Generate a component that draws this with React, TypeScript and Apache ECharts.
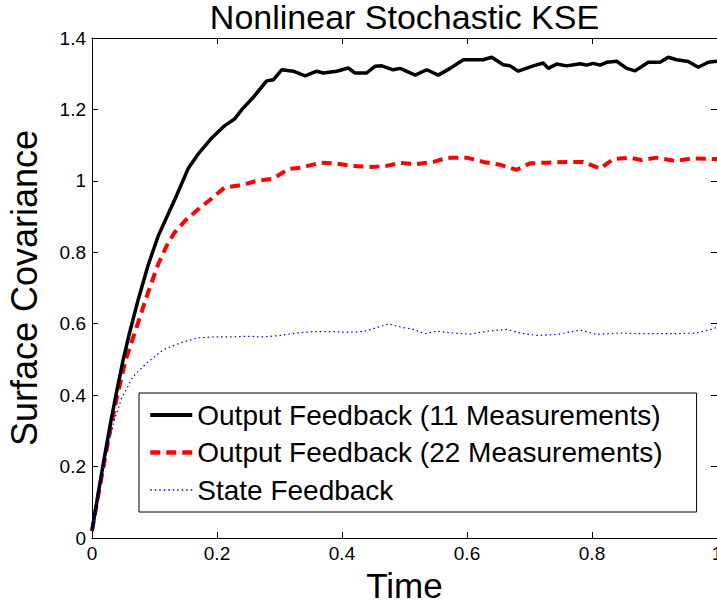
import React, { useEffect, useRef } from "react";
import * as echarts from "echarts";

const titleText = "Nonlinear Stochastic KSE";
const xAxisName = "Time";
const yAxisName = "Surface Covariance";
const seriesNames = [
  "Output Feedback (11 Measurements)",
  "Output Feedback (22 Measurements)",
  "State Feedback",
];
const xTicks = [0, 0.2, 0.4, 0.6, 0.8, 1];
const yTicks = [0, 0.2, 0.4, 0.6, 0.8, 1, 1.2, 1.4];

const black11: [number, number][] = [
  [0, 0.02], [0.01, 0.125], [0.02, 0.228], [0.03, 0.325], [0.04, 0.415], [0.05, 0.5],
  [0.06, 0.574], [0.074, 0.668], [0.09, 0.765], [0.106, 0.846], [0.12, 0.9], [0.133, 0.95],
  [0.154, 1.035], [0.172, 1.08], [0.19, 1.117], [0.212, 1.154], [0.228, 1.173], [0.24, 1.2],
  [0.258, 1.234], [0.2795, 1.28], [0.29, 1.283], [0.3035, 1.311], [0.322, 1.307], [0.341, 1.294],
  [0.3595, 1.307], [0.37, 1.302], [0.3915, 1.307], [0.41, 1.316], [0.421, 1.302], [0.4395, 1.302],
  [0.453, 1.321], [0.4635, 1.322], [0.482, 1.311], [0.493, 1.315], [0.517, 1.296], [0.5355, 1.311],
  [0.554, 1.296], [0.573, 1.315], [0.594, 1.339], [0.626, 1.339], [0.6395, 1.346], [0.658, 1.325],
  [0.669, 1.322], [0.682, 1.307], [0.706, 1.322], [0.722, 1.33], [0.73, 1.315], [0.7435, 1.327],
  [0.7595, 1.322], [0.781, 1.328], [0.7915, 1.324], [0.802, 1.329], [0.813, 1.324], [0.8235, 1.332],
  [0.8395, 1.335], [0.8555, 1.315], [0.869, 1.308], [0.89, 1.332], [0.909, 1.332], [0.922, 1.346],
  [0.9355, 1.339], [0.954, 1.334], [0.97, 1.318], [0.986, 1.332], [1.0, 1.335],
];

const red22: [number, number][] = [
  [0, 0.02], [0.01, 0.12], [0.02, 0.215], [0.03, 0.31], [0.04, 0.395], [0.054, 0.5],
  [0.0736, 0.602], [0.0896, 0.687], [0.1056, 0.765], [0.119, 0.817], [0.132, 0.855], [0.151, 0.892],
  [0.1696, 0.92], [0.191, 0.95], [0.212, 0.981], [0.239, 0.988], [0.2635, 1.0], [0.29, 1.006],
  [0.314, 1.033], [0.3355, 1.037], [0.365, 1.051], [0.389, 1.049], [0.4155, 1.042], [0.4475, 1.039],
  [0.4715, 1.042], [0.493, 1.05], [0.5195, 1.047], [0.546, 1.053], [0.57, 1.065], [0.5995, 1.065],
  [0.626, 1.053], [0.653, 1.045], [0.6795, 1.031], [0.7008, 1.049], [0.7275, 1.051], [0.7595, 1.053],
  [0.786, 1.053], [0.813, 1.034], [0.834, 1.061], [0.861, 1.065], [0.8795, 1.058], [0.9035, 1.065],
  [0.933, 1.056], [0.962, 1.063], [1.0, 1.061],
];

const blueState: [number, number][] = [
  [0, 0.02], [0.01, 0.125], [0.02, 0.215], [0.034, 0.32], [0.047, 0.39], [0.066, 0.453],
  [0.0875, 0.49], [0.114, 0.527], [0.141, 0.546], [0.1675, 0.56], [0.194, 0.563], [0.221, 0.563],
  [0.2475, 0.565], [0.274, 0.563], [0.301, 0.567], [0.3275, 0.574], [0.354, 0.578], [0.381, 0.578],
  [0.4075, 0.576], [0.434, 0.578], [0.461, 0.592], [0.475, 0.6], [0.49, 0.592], [0.514, 0.584],
  [0.533, 0.572], [0.5515, 0.579], [0.578, 0.574], [0.605, 0.571], [0.6315, 0.579], [0.6635, 0.584],
  [0.685, 0.574], [0.7115, 0.567], [0.7435, 0.57], [0.781, 0.582], [0.8075, 0.57], [0.845, 0.574],
  [0.877, 0.572], [0.909, 0.572], [0.9355, 0.572], [0.9675, 0.574], [0.994, 0.586], [1.0, 0.59],
];

const FONT = "'Liberation Sans', Arial, Helvetica, sans-serif";

const fmt = (v: number) => String(Math.round(v * 10) / 10);

export default function App() {
  const ref = useRef<HTMLDivElement>(null);
  useEffect(() => {
    if (!ref.current) return;
    const chart = echarts.init(ref.current, null, { renderer: "svg" });
    const baseX = {
      type: "value" as const,
      min: xTicks[0],
      max: xTicks[xTicks.length - 1],
      interval: 0.2,
      splitLine: { show: false },
      axisLine: { show: true, onZero: false, lineStyle: { color: "#000", width: 1 } },
      axisTick: { show: true, inside: true, length: 6, lineStyle: { color: "#000" } },
    };
    const baseY = {
      type: "value" as const,
      min: yTicks[0],
      max: yTicks[yTicks.length - 1],
      interval: 0.2,
      splitLine: { show: false },
      axisLine: { show: true, onZero: false, lineStyle: { color: "#000", width: 1 } },
      axisTick: { show: true, inside: true, length: 6, lineStyle: { color: "#000" } },
    };
    chart.setOption({
      animation: false,
      backgroundColor: "#fff",
      textStyle: { fontFamily: FONT },
      grid: { left: 92, right: 0, top: 38, bottom: 65, outerBoundsMode: "none", containLabel: false },
      graphic: [
        {
          type: "text",
          x: 404.5,
          y: 0,
          style: {
            text: titleText,
            fontSize: 34,
            fontFamily: FONT,
            fill: "#000",
            align: "center",
            verticalAlign: "top",
          },
        },
      ],
      xAxis: [
        {
          ...baseX,
          position: "bottom",
          axisLabel: { color: "#000", fontSize: 19, fontFamily: FONT, margin: 6, formatter: fmt },
          name: xAxisName,
          nameLocation: "middle",
          nameGap: 25,
          nameTextStyle: { color: "#000", fontSize: 35, fontFamily: FONT },
        },
        { ...baseX, position: "top", axisLabel: { show: false } },
      ],
      yAxis: [
        {
          ...baseY,
          position: "left",
          axisLabel: { color: "#000", fontSize: 19, fontFamily: FONT, margin: 6, formatter: fmt },
          name: yAxisName,
          nameLocation: "middle",
          nameGap: 50,
          nameTextStyle: { color: "#000", fontSize: 36, fontFamily: FONT },
        },
        { ...baseY, position: "right", axisLabel: { show: false } },
      ],
      legend: {
        orient: "vertical",
        left: 139,
        top: 393,
        padding: [8, 34, 8, 9],
        itemGap: 9.5,
        itemWidth: 42,
        itemHeight: 14,
        backgroundColor: "#fff",
        borderColor: "#000",
        borderWidth: 1,
        borderRadius: 0,
        selectedMode: false,
        itemStyle: { opacity: 0 },
        textStyle: { color: "#000", fontSize: 28, fontFamily: FONT, lineHeight: 28 },
        data: [
          { name: seriesNames[0], lineStyle: { width: 4 } },
          { name: seriesNames[1], lineStyle: { width: 4.5 } },
          { name: seriesNames[2], lineStyle: { width: 1.5 } },
        ],
      },
      series: [
        {
          name: seriesNames[0],
          type: "line",
          data: black11,
          symbol: "none",
          showSymbol: false,
          lineStyle: { color: "#000", width: 3.5 },
          itemStyle: { color: "#000" },
          z: 3,
        },
        {
          name: seriesNames[1],
          type: "line",
          data: red22,
          symbol: "none",
          showSymbol: false,
          lineStyle: { color: "#ff0000", width: 4, type: [10, 6] },
          itemStyle: { color: "#ff0000" },
          z: 2,
        },
        {
          name: seriesNames[2],
          type: "line",
          data: blueState,
          symbol: "none",
          showSymbol: false,
          lineStyle: { color: "#0000ff", width: 1.2, type: [1.5, 3] },
          itemStyle: { color: "#0000ff" },
          z: 4,
        },
      ],
    });
    return () => chart.dispose();
  }, []);
  return (
    <div
      ref={ref}
      style={{ position: "absolute", left: 0, top: 0, width: 717, height: 603 }}
    />
  );
}
